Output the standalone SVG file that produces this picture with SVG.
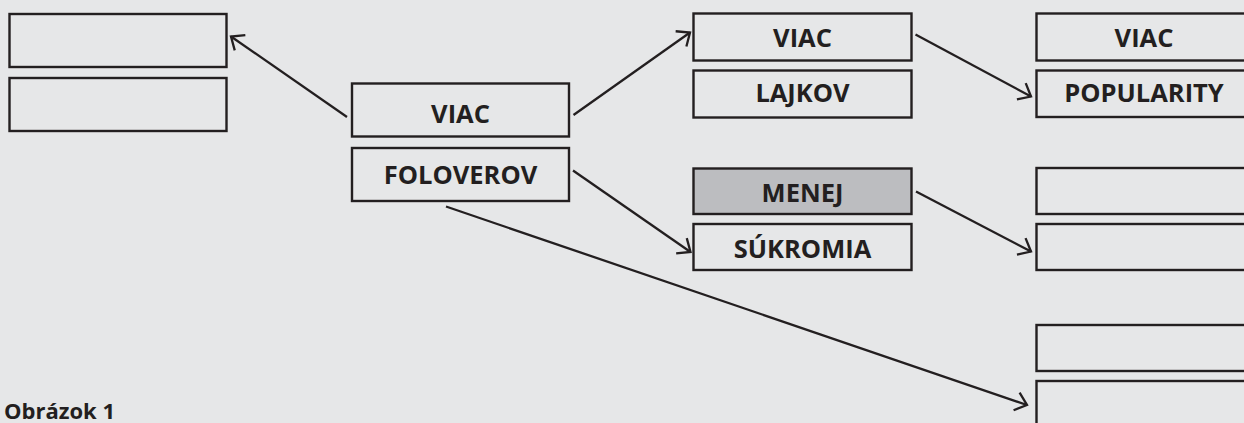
<svg xmlns="http://www.w3.org/2000/svg" width="1244" height="423" viewBox="0 0 1244 423">
<style>
.box{fill:none;stroke:#231f20;stroke-width:2.4}
.gray{fill:#bcbdc0}
.lbl{font-family:"Open Sans","Liberation Sans",sans-serif;font-weight:bold;font-size:25.5px;fill:#231f20;text-anchor:middle}
.cap{font-family:"Open Sans","Liberation Sans",sans-serif;font-weight:bold;font-size:22px;fill:#231f20}
.conn{fill:none;stroke:#231f20;stroke-width:2.3;marker-end:url(#arr)}
</style>
<defs>
<marker id="arr" markerUnits="userSpaceOnUse" orient="auto" markerWidth="30" markerHeight="30" refX="0" refY="0" viewBox="-15 -15 30 30" overflow="visible">
<path d="M -11 -9.3 L 0 0 L -11 9.3" fill="none" stroke="#231f20" stroke-width="2.3" stroke-linecap="butt" stroke-linejoin="miter"/>
</marker>
</defs>
<rect x="0" y="0" width="1244" height="423" fill="#e6e7e8"/>
<g id="left1"><rect class="box" x="9.5" y="14" width="217" height="53"/></g>
<g id="left2"><rect class="box" x="9.5" y="78" width="217" height="53"/></g>
<g id="center-viac"><rect class="box" x="352" y="83.5" width="217" height="53"/><text class="lbl" x="460.5" y="122.5">VIAC</text></g>
<g id="center-foloverov"><rect class="box" x="352" y="148" width="217" height="53"/><text class="lbl" x="460.5" y="184">FOLOVEROV</text></g>
<g id="mid-viac"><rect class="box" x="693.5" y="13.5" width="218" height="47"/><text class="lbl" x="802.5" y="46.5">VIAC</text></g>
<g id="mid-lajkov"><rect class="box" x="693.5" y="70.5" width="218" height="47"/><text class="lbl" x="802.5" y="101.5">LAJKOV</text></g>
<g id="mid-menej"><rect class="box gray" x="693.5" y="168.5" width="218" height="45.5"/><text class="lbl" x="802.5" y="201.5">MENEJ</text></g>
<g id="mid-sukromia"><rect class="box" x="693.5" y="224" width="218" height="46"/><text class="lbl" x="802.5" y="258">SÚKROMIA</text></g>
<g id="right-viac"><rect class="box" x="1036.5" y="13.5" width="216" height="47"/><text class="lbl" x="1144" y="46.5">VIAC</text></g>
<g id="right-popularity"><rect class="box" x="1036.5" y="70.5" width="216" height="46.5"/><text class="lbl" x="1144" y="101.5">POPULARITY</text></g>
<g id="right3"><rect class="box" x="1036.5" y="168" width="216" height="46"/></g>
<g id="right4"><rect class="box" x="1036.5" y="224" width="216" height="46"/></g>
<g id="right5"><rect class="box" x="1036.5" y="325" width="216" height="46"/></g>
<g id="right6"><rect class="box" x="1036.5" y="381" width="216" height="60"/></g>
<g id="connectors">
<line class="conn" x1="347" y1="117" x2="231" y2="36.5"/>
<line class="conn" x1="573.5" y1="115" x2="690" y2="32.5"/>
<line class="conn" x1="573" y1="170.5" x2="690.5" y2="252"/>
<line class="conn" x1="915.5" y1="34.5" x2="1031" y2="96.5"/>
<line class="conn" x1="916" y1="191.5" x2="1031" y2="251.5"/>
<line class="conn" x1="446" y1="206.5" x2="1027" y2="405"/>
</g>
<text class="cap" x="4" y="419">Obrázok 1</text>
</svg>
